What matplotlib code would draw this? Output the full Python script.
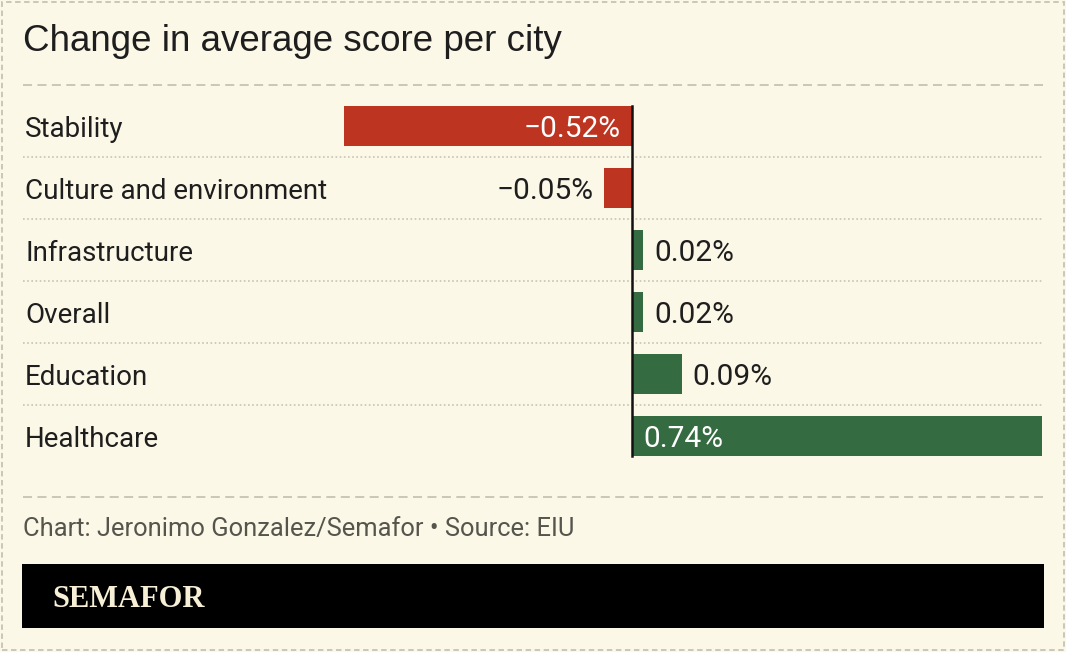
import matplotlib
matplotlib.use("Agg")
import matplotlib.pyplot as plt
from matplotlib.patches import Rectangle
from matplotlib.lines import Line2D
import matplotlib.transforms as mtransforms

categories = ["Stability", "Culture and environment", "Infrastructure", "Overall", "Education", "Healthcare"]
values = [-0.52, -0.05, 0.02, 0.02, 0.09, 0.74]
value_labels = ["\u22120.52%", "\u22120.05%", "0.02%", "0.02%", "0.09%", "0.74%"]
inside_label = [True, False, False, False, False, True]

title = "Change in average score per city"
source = "Chart: Jeronimo Gonzalez/Semafor \u2022 Source: EIU"
brand = "SEMAFOR"

BG = "#fcf8e7"
RED = "#bd3421"
GREEN = "#356b41"
GRID = "#c6c3b5"
TXT = "#1e1e1e"

W, H = 1066, 652
fig = plt.figure(figsize=(W / 100, H / 100), dpi=100)
fig.patch.set_facecolor(BG)

cond = ["Roboto", "DejaVu Sans"]

def fx(px):
    return px / W

def fy(py):
    return 1 - py / H

# outer dashed border
fig.add_artist(Rectangle((fx(1.5), fy(649.5)), fx(1063.5) - fx(1.5), fy(1.5) - fy(649.5),
                         transform=fig.transFigure, fill=False, edgecolor=GRID, lw=1.3,
                         linestyle=(0, (3, 2))))

# title
fig.text(fx(23), fy(51), title, fontsize=26.5, color=TXT, family=["Liberation Sans", "DejaVu Sans"],
         ha="left", va="baseline")

# dashed separators
for yy in (85, 497):
    fig.add_artist(Line2D([fx(23), fx(1043)], [fy(yy), fy(yy)], transform=fig.transFigure,
                          color=GRID, lw=1.3, linestyle=(0, (5, 3))))

# main axes
ax = fig.add_axes([fx(23), fy(467), fx(1043) - fx(23), fy(95) - fy(467)])
ax.set_facecolor("none")
ax.set_xlim(-1.099, 0.742)
ax.set_ylim(len(categories) - 0.5, -0.5)
ax.axis("off")

ypos = list(range(len(categories)))
colors = [RED if v < 0 else GREEN for v in values]
bh = 40 / 62
ax.barh(ypos, values, height=bh, color=colors, zorder=2)
ax.plot([0, 0], [-bh / 2, len(categories) - 1 + bh / 2], color="#111111", lw=1.8, zorder=3)

for i in range(len(categories) - 1):
    ax.plot([-1.099, 0.742], [i + 0.5, i + 0.5], color=GRID, lw=1.2, linestyle=(0, (1, 1.5)), zorder=1)

bl = 11 / 62
trans = mtransforms.blended_transform_factory(ax.transAxes, ax.transData)
for i, c in enumerate(categories):
    ax.text(2 / 1020, i + bl, c, transform=trans, fontsize=20, color=TXT, family=cond,
            ha="left", va="baseline")

pad = 11 / 554
for i, (v, lab, ins) in enumerate(zip(values, value_labels, inside_label)):
    if v < 0:
        if ins:
            x, ha, col = -pad, "right", "white"
        else:
            x, ha, col = v - pad, "right", TXT
    else:
        if ins:
            x, ha, col = pad, "left", "white"
        else:
            x, ha, col = v + pad, "left", TXT
    ax.text(x, i + bl, lab, fontsize=21.5, color=col, family=cond, ha=ha, va="baseline", zorder=4)

# source
fig.text(fx(23), fy(536), source, fontsize=18.4, color="#55554d", family=cond, ha="left", va="baseline")

# brand box
fig.add_artist(Rectangle((fx(22), fy(628)), fx(1044) - fx(22), fy(564) - fy(628),
                         transform=fig.transFigure, facecolor="black", edgecolor="none"))
fig.text(fx(52), fy(607), brand, fontsize=22, color="#f7f0d6", fontweight="bold",
         family=["Liberation Serif", "DejaVu Serif"], ha="left", va="baseline")

fig.savefig("out.png", dpi=100, facecolor=BG)
